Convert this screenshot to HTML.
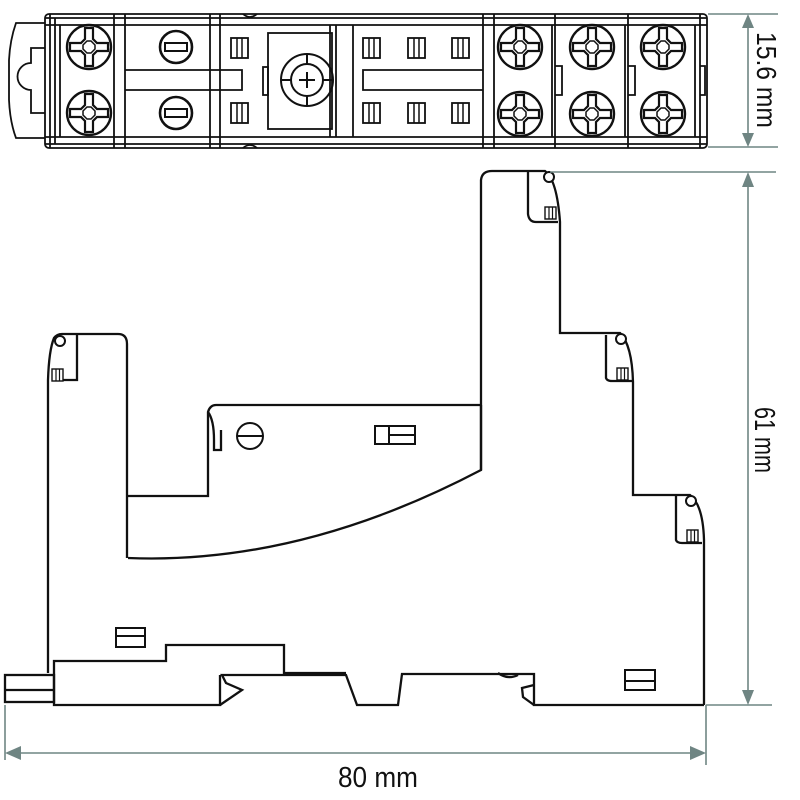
<!DOCTYPE html>
<html><head><meta charset="utf-8"><style>
html,body{margin:0;padding:0;background:#fff}
svg{display:block}
text{font-family:"Liberation Sans Narrow","Liberation Sans",sans-serif;fill:#111}
</style></head><body>
<svg width="800" height="800" viewBox="0 0 800 800" xmlns="http://www.w3.org/2000/svg">
<defs>
<g id="ps">
 <circle r="22" fill="#fff" stroke="#111" stroke-width="2.4"/>
 <path d="M-4,-19 H4 V-8 L8,-4 H19 V4 H8 L4,8 V19 H-4 V8 L-8,4 H-19 V-4 H-8 L-4,-8 Z" fill="none" stroke="#111" stroke-width="2.2"/>
 <path d="M-2,-6 L2,-6 L6,-2 L6,2 L2,6 L-2,6 L-6,2 L-6,-2 Z" fill="none" stroke="#111" stroke-width="1.5"/>
</g>
<g id="fs">
 <circle r="16" fill="#fff" stroke="#111" stroke-width="2.6"/>
 <rect x="-11" y="-4" width="22" height="8" fill="none" stroke="#111" stroke-width="2"/>
</g>
<g id="sq">
 <rect x="0" y="0" width="17" height="20" fill="none" stroke="#111" stroke-width="1.8"/>
 <line x1="6" y1="0" x2="6" y2="20" stroke="#111" stroke-width="1.5"/>
 <line x1="11" y1="0" x2="11" y2="20" stroke="#111" stroke-width="1.5"/>
</g>
<g id="sm">
 <rect x="0" y="0" width="11" height="12" fill="#fff" stroke="#111" stroke-width="1.4"/>
 <line x1="4" y1="0" x2="4" y2="12" stroke="#111" stroke-width="1.2"/>
 <line x1="7.5" y1="0" x2="7.5" y2="12" stroke="#111" stroke-width="1.2"/>
</g>
</defs>

<!-- ===== TOP VIEW ===== -->
<g fill="none" stroke="#111" stroke-width="1.8">
 <path d="M45,23 H16 Q10,40 9,60 V100 Q10,122 16,138 H45"/>
 <path d="M45,48 H31 V63 A13,13 0 0 0 31,90 V113 H45"/>
 <rect x="45" y="14" width="662" height="134" rx="4"/>
 <line x1="45" y1="18" x2="707" y2="18"/>
 <line x1="45" y1="25" x2="707" y2="25"/>
 <line x1="45" y1="137" x2="707" y2="137"/>
 <line x1="45" y1="144" x2="707" y2="144"/>
 <line x1="50" y1="14" x2="50" y2="148"/>
 <line x1="55" y1="18" x2="55" y2="144"/>
 <line x1="60" y1="25" x2="60" y2="137"/>
 <line x1="114" y1="14" x2="114" y2="148"/>
 <line x1="125" y1="14" x2="125" y2="148"/>
 <line x1="210" y1="14" x2="210" y2="148"/>
 <line x1="220" y1="14" x2="220" y2="148"/>
 <rect x="268" y="33" width="64" height="96"/>
 <rect x="263" y="67" width="5" height="28"/>
 <line x1="330" y1="25" x2="330" y2="137"/>
 <line x1="336" y1="25" x2="336" y2="137"/>
 <line x1="353" y1="25" x2="353" y2="137"/>
 <line x1="483" y1="14" x2="483" y2="148"/>
 <line x1="494" y1="14" x2="494" y2="148"/>
 <line x1="552" y1="25" x2="552" y2="137"/>
 <line x1="555" y1="14" x2="555" y2="148"/>
 <line x1="625" y1="25" x2="625" y2="137"/>
 <line x1="628" y1="14" x2="628" y2="148"/>
 <line x1="695" y1="25" x2="695" y2="137"/>
 <line x1="700" y1="14" x2="700" y2="148"/>
 <path d="M125,70 H242 V90 H125"/>
 <path d="M483,70 H363 V90 H483"/>
 <path d="M243,14 Q250,20 257,14 M243,148 Q250,142 257,148"/>
 <path d="M555,66 H562 V95 H555 M628,66 H635 V95 H628 M700,66 H705 V95 H700"/>
</g>
<use href="#ps" x="89" y="47"/><use href="#ps" x="89" y="113"/>
<use href="#fs" x="176" y="47"/><use href="#fs" x="176" y="113"/>
<use href="#ps" x="520" y="47"/><use href="#ps" x="520" y="114"/>
<use href="#ps" x="592" y="47"/><use href="#ps" x="592" y="114"/>
<use href="#ps" x="663" y="47"/><use href="#ps" x="663" y="114"/>
<use href="#sq" x="231" y="38"/><use href="#sq" x="231" y="103"/>
<use href="#sq" x="363" y="38"/><use href="#sq" x="363" y="103"/>
<use href="#sq" x="408" y="38"/><use href="#sq" x="408" y="103"/>
<use href="#sq" x="452" y="38"/><use href="#sq" x="452" y="103"/>
<g fill="none" stroke="#111" stroke-width="2">
 <circle cx="307" cy="80" r="26"/>
 <circle cx="307" cy="80" r="16"/>
 <path d="M299,80 H315 M307,72 V88 M281,80 H291 M323,80 H333 M307,54 V64 M307,96 V106"/>
</g>

<!-- ===== SIDE VIEW ===== -->
<g fill="none" stroke="#111" stroke-width="2.3">
 <path d="M48,673 V380 Q49,350 54,338 Q57,334 62,334 H118 Q127,334 127,344 V558"/>
 <path d="M77,335 V380 H52"/>
 <path d="M127,496 H208 V412 Q210,405 216,405 H481"/>
 <path d="M208,412 Q214,420 214,440 V450 H221 V430"/>
 <path d="M128,558 Q300,565 481,470 V405"/>
 <path d="M481,470 V180 Q482,171 492,171 H545 Q557,180 560,222 V333 H620 Q632,345 633,382 V495 H690 Q703,505 704,540 V705"/>
 <path d="M528,172 V214 Q529,222 536,222 H558"/>
 <path d="M606,335 V378 Q607,381 612,381 H632"/>
 <path d="M676,496 V540 Q677,543 682,543 H702"/>
 <path d="M54,673 V661 H166 V645 H284 V673 H346"/>
 <path d="M54,673 V705 H220 V675"/>
 <path d="M220,705 L242,690 L226,683 L222,675 H346 L357,705 H398 L402,674 H534 V705 H704"/>
 <path d="M534,685 L522,688 L523,697 L534,705"/>
 <path d="M498,673 Q508,680 518,675"/>
 <rect x="5" y="675" width="49" height="27"/>
 <line x1="5" y1="690" x2="54" y2="690"/>
</g>
<g fill="none" stroke="#111" stroke-width="2">
 <circle cx="549" cy="177" r="5" fill="#fff"/>
 <circle cx="621" cy="339" r="5" fill="#fff"/>
 <circle cx="691" cy="501" r="5" fill="#fff"/>
 <circle cx="60" cy="341" r="5" fill="#fff"/>
 <rect x="116" y="628" width="29" height="19"/><line x1="116" y1="636" x2="145" y2="636"/>
 <rect x="625" y="670" width="30" height="20"/><line x1="625" y1="681" x2="655" y2="681"/>
 <rect x="375" y="426" width="40" height="18"/><line x1="389" y1="426" x2="389" y2="444"/><line x1="389" y1="435" x2="415" y2="435"/>
 <circle cx="250" cy="436" r="13"/><line x1="237" y1="436" x2="263" y2="436"/>
</g>
<use href="#sm" x="545" y="207"/>
<use href="#sm" x="617" y="368"/>
<use href="#sm" x="687" y="530"/>
<use href="#sm" x="52" y="369"/>

<!-- ===== DIMENSIONS ===== -->
<g stroke="#6f8583" stroke-width="1.6" fill="#6f8583">
 <line x1="708" y1="14" x2="778" y2="14"/>
 <line x1="708" y1="147" x2="778" y2="147"/>
 <line x1="748" y1="20" x2="748" y2="141"/>
 <path d="M748,14 L742,28 L754,28 Z" stroke="none"/>
 <path d="M748,147 L742,133 L754,133 Z" stroke="none"/>
 <line x1="550" y1="172" x2="776" y2="172"/>
 <line x1="706" y1="705" x2="772" y2="705"/>
 <line x1="748" y1="178" x2="748" y2="699"/>
 <path d="M748,172 L742,187 L754,187 Z" stroke="none"/>
 <path d="M748,705 L742,690 L754,690 Z" stroke="none"/>
 <line x1="5" y1="705" x2="5" y2="760"/>
 <line x1="706" y1="705" x2="706" y2="765"/>
 <line x1="11" y1="753" x2="700" y2="753"/>
 <path d="M5,753 L21,746 L21,760 Z" stroke="none"/>
 <path d="M706,753 L690,746 L690,760 Z" stroke="none"/>
</g>
<text x="378" y="787" font-size="29" text-anchor="middle" textLength="80" lengthAdjust="spacingAndGlyphs">80 mm</text>
<text transform="translate(755,440) rotate(90)" font-size="29" text-anchor="middle" textLength="66" lengthAdjust="spacingAndGlyphs">61 mm</text>
<text transform="translate(757,80) rotate(90)" font-size="28" text-anchor="middle" textLength="96" lengthAdjust="spacingAndGlyphs">15.6 mm</text>
</svg>
</body></html>
